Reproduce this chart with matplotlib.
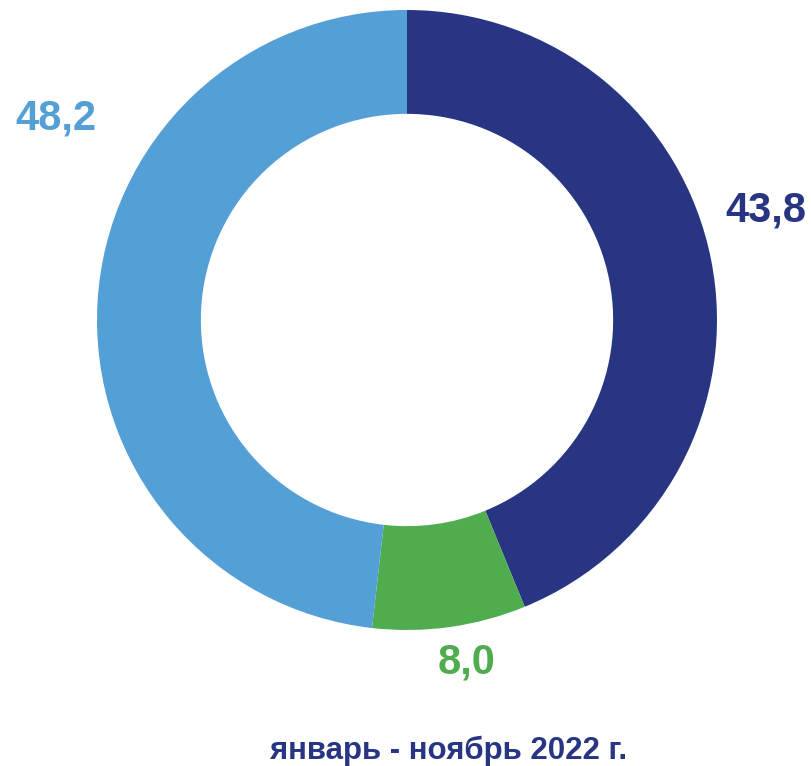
import matplotlib
matplotlib.use("Agg")
import matplotlib.pyplot as plt

values = [43.8, 8.0, 48.2]
labels = ["43,8", "8,0", "48,2"]
colors = ["#283583", "#4fad4f", "#539fd6"]
caption = "январь - ноябрь 2022 г."

plt.rcParams['font.family'] = ['Liberation Sans', 'DejaVu Sans']

fig = plt.figure(figsize=(8.12, 7.66), dpi=100)
ax = fig.add_axes([0, 0, 1, 1])

cx, cy, R = 407, 766 - 320, 310
ax.pie(values, colors=colors, startangle=90, counterclock=False,
       center=(cx, cy), radius=R, frame=True,
       wedgeprops=dict(width=R * 0.335, edgecolor='none'))
ax.set_xlim(0, 812)
ax.set_ylim(0, 766)
ax.axis('off')

pos = [(766, 766 - 222), (467, 766 - 673), (56, 766 - 129)]
for (x, y), lab, c in zip(pos, labels, colors):
    ax.text(x, y, lab, color=c, fontsize=30, fontweight='bold',
            ha='center', va='baseline')

ax.text(449, 766 - 759, caption, color="#283583", fontsize=22.5,
        fontweight='bold', ha='center', va='baseline')

fig.savefig("out.png", dpi=100)
